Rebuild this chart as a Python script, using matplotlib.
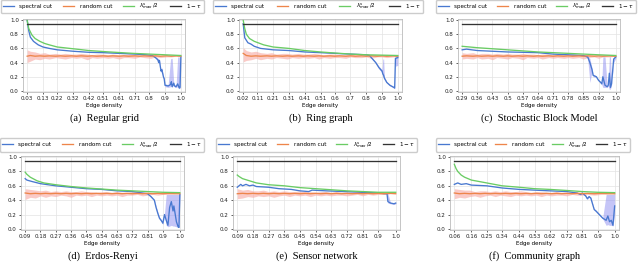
import matplotlib
matplotlib.use("Agg")
import matplotlib.pyplot as plt

# ---------------- data ----------------
a_ticks = [0.03, 0.13, 0.22, 0.32, 0.42, 0.51, 0.61, 0.71, 0.8, 0.9, 1.0]
b_ticks = [0.02, 0.11, 0.21, 0.31, 0.41, 0.51, 0.6, 0.7, 0.8, 0.9, 1.0]
c_ticks = [0.29, 0.36, 0.43, 0.5, 0.57, 0.64, 0.71, 0.78, 0.85, 0.92, 1.0]
d_ticks = [0.09, 0.18, 0.27, 0.36, 0.45, 0.54, 0.63, 0.72, 0.81, 0.9, 1.0]
e_ticks = [0.09, 0.18, 0.27, 0.36, 0.45, 0.54, 0.63, 0.72, 0.81, 0.9, 1.0]
f_ticks = [0.06, 0.16, 0.25, 0.34, 0.44, 0.53, 0.62, 0.72, 0.81, 0.9, 1.0]

captions = ["(a)  Regular grid", "(b)  Ring graph", "(c)  Stochastic Block Model",
            "(d)  Erdos-Renyi", "(e)  Sensor network", "(f)  Community graph"]
one_minus_tau = 0.945

# lambda_max / 2 (green)
a_lam_x = [0.03, 0.04, 0.06, 0.08, 0.11, 0.14, 0.17, 0.22, 0.3, 0.42, 0.55, 0.7, 0.9, 1.0]
a_lam = [1.0, 0.88, 0.79, 0.74, 0.70, 0.67, 0.65, 0.62, 0.60, 0.57, 0.55, 0.53, 0.51, 0.50]
b_lam_x = [0.02, 0.03, 0.04, 0.06, 0.09, 0.15, 0.21, 0.31, 0.41, 0.51, 0.6, 0.7, 0.8, 1.0]
b_lam = [1.0, 0.88, 0.80, 0.74, 0.70, 0.65, 0.62, 0.60, 0.57, 0.55, 0.535, 0.52, 0.51, 0.50]
c_lam_x = [0.29, 0.36, 0.43, 0.5, 0.57, 0.64, 0.71, 0.78, 0.85, 0.92, 1.0]
c_lam = [0.63, 0.61, 0.595, 0.58, 0.565, 0.55, 0.54, 0.53, 0.52, 0.51, 0.50]
d_lam_x = [0.09, 0.1, 0.12, 0.16, 0.2, 0.27, 0.36, 0.45, 0.54, 0.63, 0.72, 0.81, 0.9, 1.0]
d_lam = [0.79, 0.76, 0.72, 0.67, 0.64, 0.615, 0.59, 0.57, 0.555, 0.54, 0.53, 0.52, 0.51, 0.505]
e_lam_x = [0.09, 0.1, 0.12, 0.16, 0.2, 0.27, 0.36, 0.45, 0.54, 0.63, 0.72, 0.81, 0.9, 1.0]
e_lam = [0.75, 0.73, 0.70, 0.67, 0.64, 0.615, 0.60, 0.575, 0.56, 0.545, 0.53, 0.52, 0.51, 0.51]
f_lam_x = [0.06, 0.07, 0.08, 0.1, 0.12, 0.16, 0.25, 0.34, 0.44, 0.53, 0.62, 0.72, 0.81, 0.9, 1.0]
f_lam = [0.90, 0.84, 0.80, 0.75, 0.72, 0.68, 0.64, 0.60, 0.58, 0.56, 0.55, 0.535, 0.52, 0.51, 0.505]

# spectral cut (blue) and its spread
a_spec_x = [0.03, 0.04, 0.05, 0.07, 0.1, 0.13, 0.17, 0.22, 0.27, 0.32, 0.42, 0.51, 0.61, 0.71, 0.78, 0.82,
            0.84, 0.855, 0.86, 0.865, 0.87, 0.875, 0.88, 0.885, 0.89, 0.895, 0.9, 0.92, 0.935, 0.94,
            0.945, 0.955, 0.96, 0.97, 0.98, 0.99, 0.995, 1.0]
a_spec = [1.0, 0.85, 0.76, 0.70, 0.65, 0.62, 0.60, 0.58, 0.57, 0.56, 0.545, 0.54, 0.53, 0.52, 0.51, 0.50,
          0.47, 0.44, 0.40, 0.43, 0.35, 0.28, 0.30, 0.25, 0.20, 0.17, 0.08, 0.07, 0.09, 0.13,
          0.06, 0.11, 0.07, 0.06, 0.10, 0.04, 0.05, 0.48]
a_spec_hi = [1.0, 0.85, 0.76, 0.70, 0.65, 0.62, 0.60, 0.58, 0.57, 0.56, 0.545, 0.54, 0.53, 0.52, 0.51, 0.50,
             0.48, 0.46, 0.45, 0.44, 0.36, 0.30, 0.33, 0.27, 0.21, 0.18, 0.10, 0.09, 0.45, 0.46,
             0.46, 0.12, 0.09, 0.08, 0.48, 0.48, 0.06, 0.49]
a_spec_lo = [1.0, 0.85, 0.76, 0.70, 0.65, 0.62, 0.60, 0.58, 0.57, 0.56, 0.545, 0.54, 0.53, 0.52, 0.51, 0.50,
             0.46, 0.42, 0.38, 0.41, 0.33, 0.26, 0.28, 0.23, 0.18, 0.15, 0.06, 0.05, 0.06, 0.07,
             0.05, 0.09, 0.05, 0.05, 0.06, 0.03, 0.04, 0.45]

b_spec_x = [0.02, 0.03, 0.05, 0.07, 0.09, 0.13, 0.21, 0.31, 0.41, 0.51, 0.6, 0.7, 0.8, 0.82, 0.84,
            0.86, 0.88, 0.9, 0.905, 0.91, 0.915, 0.93, 0.95, 0.975, 0.98, 0.985, 1.0]
b_spec = [0.95, 0.75, 0.68, 0.66, 0.63, 0.60, 0.58, 0.57, 0.55, 0.54, 0.53, 0.52, 0.51, 0.50, 0.45,
          0.40, 0.33, 0.28, 0.24, 0.22, 0.18, 0.12, 0.08, 0.05, 0.04, 0.46, 0.47]
b_spec_hi = [0.95, 0.75, 0.68, 0.66, 0.63, 0.60, 0.58, 0.57, 0.55, 0.54, 0.53, 0.52, 0.51, 0.50, 0.46,
             0.41, 0.35, 0.30, 0.45, 0.45, 0.20, 0.13, 0.09, 0.06, 0.05, 0.50, 0.50]
b_spec_lo = [0.95, 0.75, 0.68, 0.66, 0.63, 0.60, 0.58, 0.57, 0.55, 0.54, 0.53, 0.52, 0.51, 0.50, 0.44,
             0.39, 0.31, 0.26, 0.20, 0.19, 0.16, 0.11, 0.07, 0.04, 0.03, 0.35, 0.36]

c_spec_x = [0.29, 0.31, 0.36, 0.43, 0.5, 0.57, 0.64, 0.71, 0.78, 0.85, 0.87, 0.88, 0.89, 0.895, 0.91,
            0.92, 0.93, 0.935, 0.94, 0.95, 0.96, 0.965, 0.97, 0.975, 0.98, 0.99, 1.0]
c_spec = [0.58, 0.59, 0.57, 0.56, 0.55, 0.545, 0.54, 0.52, 0.51, 0.50, 0.48, 0.40, 0.30, 0.22, 0.20,
          0.15, 0.12, 0.10, 0.20, 0.08, 0.06, 0.08, 0.25, 0.05, 0.10, 0.45, 0.48]
c_spec_hi = [0.58, 0.59, 0.57, 0.56, 0.55, 0.545, 0.54, 0.52, 0.51, 0.50, 0.49, 0.46, 0.32, 0.24, 0.21,
             0.16, 0.13, 0.11, 0.48, 0.48, 0.07, 0.09, 0.48, 0.48, 0.12, 0.48, 0.49]
c_spec_lo = [0.58, 0.59, 0.57, 0.56, 0.55, 0.545, 0.54, 0.52, 0.51, 0.50, 0.46, 0.12, 0.28, 0.20, 0.19,
             0.14, 0.11, 0.09, 0.05, 0.05, 0.05, 0.07, 0.02, 0.03, 0.08, 0.40, 0.46]

d_spec_x = [0.09, 0.1, 0.13, 0.18, 0.27, 0.36, 0.45, 0.54, 0.63, 0.72, 0.78, 0.81, 0.83, 0.85, 0.86,
            0.87, 0.88, 0.89, 0.9, 0.91, 0.92, 0.93, 0.94, 0.95, 0.96, 0.965, 0.98, 0.99, 0.995, 1.0]
d_spec = [0.70, 0.68, 0.66, 0.63, 0.60, 0.58, 0.56, 0.55, 0.53, 0.52, 0.50, 0.49, 0.45, 0.40, 0.30,
          0.22, 0.15, 0.12, 0.08, 0.20, 0.12, 0.05, 0.30, 0.38, 0.25, 0.32, 0.10, 0.03, 0.02, 0.48]
d_spec_hi = [0.70, 0.68, 0.66, 0.63, 0.60, 0.58, 0.56, 0.55, 0.53, 0.52, 0.50, 0.49, 0.46, 0.41, 0.32,
             0.24, 0.17, 0.13, 0.10, 0.22, 0.48, 0.48, 0.48, 0.48, 0.48, 0.48, 0.48, 0.48, 0.48, 0.49]
d_spec_lo = [0.70, 0.68, 0.66, 0.63, 0.60, 0.58, 0.56, 0.55, 0.53, 0.52, 0.50, 0.49, 0.44, 0.39, 0.28,
             0.20, 0.13, 0.11, 0.06, 0.18, 0.05, 0.03, 0.04, 0.05, 0.04, 0.04, 0.03, 0.02, 0.02, 0.46]

e_spec_x = [0.09, 0.11, 0.12, 0.14, 0.16, 0.18, 0.2, 0.27, 0.33, 0.4, 0.45, 0.5, 0.52, 0.6, 0.7, 0.8,
            0.9, 0.94, 0.95, 0.955, 0.97, 0.99, 1.0]
e_spec = [0.58, 0.62, 0.60, 0.62, 0.60, 0.61, 0.59, 0.58, 0.56, 0.55, 0.53, 0.52, 0.54, 0.53, 0.52, 0.51,
          0.50, 0.49, 0.49, 0.38, 0.36, 0.35, 0.36]
e_spec_hi = [0.58, 0.62, 0.60, 0.62, 0.60, 0.61, 0.59, 0.58, 0.56, 0.55, 0.53, 0.52, 0.54, 0.53, 0.52, 0.51,
             0.50, 0.49, 0.49, 0.49, 0.37, 0.36, 0.37]
e_spec_lo = [0.58, 0.62, 0.60, 0.62, 0.60, 0.61, 0.59, 0.58, 0.56, 0.55, 0.53, 0.52, 0.54, 0.53, 0.52, 0.51,
             0.50, 0.49, 0.49, 0.36, 0.35, 0.34, 0.35]

f_spec_x = [0.06, 0.08, 0.1, 0.13, 0.16, 0.25, 0.34, 0.44, 0.53, 0.62, 0.72, 0.78, 0.8, 0.81, 0.83,
            0.84, 0.85, 0.86, 0.87, 0.88, 0.89, 0.91, 0.93, 0.95, 0.96, 0.97, 0.98, 0.99, 1.0]
f_spec = [0.62, 0.64, 0.62, 0.63, 0.61, 0.60, 0.57, 0.55, 0.54, 0.53, 0.52, 0.50, 0.48, 0.50, 0.46,
          0.42, 0.45, 0.43, 0.35, 0.27, 0.25, 0.20, 0.15, 0.12, 0.18, 0.10, 0.12, 0.05, 0.32]
f_spec_hi = [0.62, 0.64, 0.62, 0.63, 0.61, 0.60, 0.57, 0.55, 0.54, 0.53, 0.52, 0.50, 0.49, 0.50, 0.47,
             0.43, 0.46, 0.44, 0.36, 0.28, 0.26, 0.21, 0.16, 0.48, 0.48, 0.48, 0.48, 0.48, 0.49]
f_spec_lo = [0.62, 0.64, 0.62, 0.63, 0.61, 0.60, 0.57, 0.55, 0.54, 0.53, 0.52, 0.50, 0.47, 0.49, 0.45,
             0.41, 0.44, 0.42, 0.34, 0.26, 0.24, 0.19, 0.14, 0.05, 0.06, 0.05, 0.05, 0.04, 0.20]

# random cut (orange) and its spread
a_rand_x = [0.03, 0.05, 0.08, 0.11, 0.14, 0.17, 0.21, 0.24, 0.27, 0.31, 0.34, 0.37, 0.41, 0.44, 0.47, 0.51,
            0.54, 0.57, 0.61, 0.64, 0.67, 0.71, 0.74, 0.77, 0.81, 0.84, 0.87, 0.91, 0.94, 0.97, 1.0]
a_rand = [0.49, 0.50, 0.49, 0.495, 0.49, 0.495, 0.49, 0.495, 0.49, 0.495, 0.49, 0.495, 0.49, 0.495, 0.49, 0.495,
          0.49, 0.495, 0.49, 0.495, 0.49, 0.495, 0.49, 0.495, 0.49, 0.495, 0.49, 0.495, 0.49, 0.495, 0.49]
a_rand_lo = [0.40, 0.42, 0.45, 0.44, 0.46, 0.45, 0.47, 0.46, 0.45, 0.47, 0.46, 0.47, 0.44, 0.47, 0.46, 0.47,
             0.46, 0.47, 0.45, 0.47, 0.47, 0.46, 0.48, 0.47, 0.46, 0.48, 0.47, 0.48, 0.48, 0.49, 0.49]
a_rand_hi = [0.58, 0.56, 0.55, 0.53, 0.54, 0.52, 0.53, 0.52, 0.53, 0.52, 0.52, 0.53, 0.52, 0.51, 0.52, 0.52,
             0.51, 0.52, 0.51, 0.51, 0.52, 0.51, 0.51, 0.51, 0.51, 0.51, 0.50, 0.51, 0.50, 0.50, 0.50]

b_rand_x = [0.02, 0.04, 0.07, 0.1, 0.13, 0.17, 0.2, 0.23, 0.27, 0.3, 0.33, 0.37, 0.4, 0.43, 0.47, 0.5,
            0.53, 0.57, 0.6, 0.63, 0.67, 0.7, 0.73, 0.77, 0.8, 0.83, 0.87, 0.9, 0.93, 0.97, 1.0]
b_rand = [0.53, 0.50, 0.49, 0.495, 0.49, 0.495, 0.49, 0.495, 0.49, 0.495, 0.49, 0.495, 0.49, 0.495, 0.49, 0.495,
          0.49, 0.495, 0.49, 0.495, 0.49, 0.495, 0.49, 0.495, 0.49, 0.495, 0.49, 0.495, 0.49, 0.495, 0.49]
b_rand_lo = [0.41, 0.43, 0.44, 0.46, 0.44, 0.46, 0.45, 0.47, 0.46, 0.45, 0.47, 0.46, 0.47, 0.46, 0.47, 0.45,
             0.47, 0.46, 0.47, 0.47, 0.46, 0.48, 0.47, 0.47, 0.48, 0.46, 0.48, 0.48, 0.47, 0.48, 0.49]
b_rand_hi = [0.61, 0.57, 0.55, 0.56, 0.54, 0.53, 0.54, 0.52, 0.53, 0.53, 0.52, 0.53, 0.52, 0.52, 0.53, 0.52,
             0.51, 0.52, 0.52, 0.51, 0.51, 0.52, 0.51, 0.51, 0.51, 0.51, 0.51, 0.50, 0.51, 0.50, 0.50]

c_rand_x = [0.29, 0.31, 0.34, 0.36, 0.38, 0.41, 0.43, 0.45, 0.48, 0.5, 0.52, 0.55, 0.57, 0.59, 0.62, 0.64,
            0.66, 0.69, 0.71, 0.73, 0.76, 0.78, 0.8, 0.83, 0.85, 0.87, 0.9, 0.92, 0.94, 0.97, 1.0]
c_rand = [0.49, 0.495, 0.49, 0.495, 0.49, 0.495, 0.49, 0.495, 0.49, 0.495, 0.49, 0.495, 0.49, 0.495, 0.49, 0.495,
          0.49, 0.495, 0.49, 0.495, 0.49, 0.495, 0.49, 0.495, 0.49, 0.495, 0.49, 0.495, 0.49, 0.495, 0.49]
c_rand_lo = [0.45, 0.46, 0.45, 0.47, 0.45, 0.46, 0.44, 0.47, 0.46, 0.45, 0.47, 0.46, 0.44, 0.47, 0.46, 0.47,
             0.45, 0.47, 0.46, 0.47, 0.46, 0.47, 0.46, 0.47, 0.45, 0.47, 0.48, 0.46, 0.48, 0.48, 0.49]
c_rand_hi = [0.54, 0.53, 0.54, 0.52, 0.53, 0.53, 0.52, 0.53, 0.52, 0.53, 0.52, 0.52, 0.53, 0.52, 0.52, 0.51,
             0.52, 0.52, 0.51, 0.52, 0.51, 0.51, 0.52, 0.51, 0.51, 0.51, 0.51, 0.50, 0.51, 0.50, 0.50]

d_rand_x = [0.09, 0.12, 0.15, 0.18, 0.21, 0.24, 0.27, 0.3, 0.33, 0.36, 0.39, 0.42, 0.45, 0.48, 0.51, 0.54,
            0.57, 0.6, 0.63, 0.66, 0.69, 0.72, 0.75, 0.78, 0.81, 0.84, 0.87, 0.9, 0.93, 0.97, 1.0]
d_rand = [0.50, 0.49, 0.495, 0.49, 0.495, 0.49, 0.495, 0.49, 0.495, 0.49, 0.495, 0.49, 0.495, 0.49, 0.495, 0.49,
          0.495, 0.49, 0.495, 0.49, 0.495, 0.49, 0.495, 0.49, 0.495, 0.49, 0.495, 0.49, 0.495, 0.49, 0.49]
d_rand_lo = [0.41, 0.44, 0.43, 0.46, 0.44, 0.46, 0.45, 0.47, 0.46, 0.44, 0.47, 0.46, 0.47, 0.45, 0.47, 0.46,
             0.47, 0.46, 0.47, 0.45, 0.47, 0.47, 0.48, 0.46, 0.47, 0.48, 0.47, 0.48, 0.48, 0.49, 0.49]
d_rand_hi = [0.56, 0.55, 0.54, 0.53, 0.54, 0.52, 0.53, 0.52, 0.53, 0.52, 0.52, 0.53, 0.52, 0.52, 0.51, 0.52,
             0.52, 0.51, 0.52, 0.51, 0.51, 0.52, 0.51, 0.51, 0.51, 0.51, 0.51, 0.50, 0.51, 0.50, 0.50]

e_rand_x = [0.09, 0.12, 0.15, 0.18, 0.21, 0.24, 0.27, 0.3, 0.33, 0.36, 0.39, 0.42, 0.45, 0.48, 0.51, 0.54,
            0.57, 0.6, 0.63, 0.66, 0.69, 0.72, 0.75, 0.78, 0.81, 0.84, 0.87, 0.9, 0.93, 0.97, 1.0]
e_rand = [0.49, 0.495, 0.49, 0.495, 0.49, 0.495, 0.49, 0.495, 0.49, 0.495, 0.49, 0.495, 0.49, 0.495, 0.49, 0.495,
          0.49, 0.495, 0.49, 0.495, 0.49, 0.495, 0.49, 0.495, 0.49, 0.495, 0.49, 0.495, 0.49, 0.495, 0.49]
e_rand_lo = [0.42, 0.43, 0.45, 0.44, 0.46, 0.45, 0.46, 0.44, 0.46, 0.47, 0.45, 0.47, 0.46, 0.47, 0.45, 0.47,
             0.46, 0.47, 0.46, 0.47, 0.47, 0.46, 0.47, 0.48, 0.46, 0.48, 0.47, 0.48, 0.48, 0.49, 0.49]
e_rand_hi = [0.56, 0.54, 0.55, 0.53, 0.53, 0.54, 0.52, 0.53, 0.52, 0.53, 0.52, 0.52, 0.53, 0.52, 0.52, 0.51,
             0.52, 0.52, 0.51, 0.52, 0.51, 0.51, 0.51, 0.51, 0.51, 0.51, 0.50, 0.51, 0.50, 0.50, 0.50]

f_rand_x = [0.06, 0.09, 0.12, 0.15, 0.18, 0.21, 0.24, 0.27, 0.3, 0.33, 0.36, 0.39, 0.42, 0.45, 0.48, 0.51,
            0.54, 0.57, 0.6, 0.63, 0.66, 0.69, 0.72, 0.75, 0.78, 0.81, 0.84, 0.88, 0.92, 0.96, 1.0]
f_rand = [0.50, 0.49, 0.495, 0.49, 0.495, 0.49, 0.495, 0.49, 0.495, 0.49, 0.495, 0.49, 0.495, 0.49, 0.495, 0.49,
          0.495, 0.49, 0.495, 0.49, 0.495, 0.49, 0.495, 0.49, 0.495, 0.49, 0.495, 0.49, 0.495, 0.49, 0.49]
f_rand_lo = [0.42, 0.44, 0.43, 0.45, 0.46, 0.44, 0.46, 0.47, 0.45, 0.47, 0.46, 0.45, 0.47, 0.46, 0.47, 0.46,
             0.47, 0.45, 0.47, 0.46, 0.47, 0.47, 0.46, 0.48, 0.47, 0.47, 0.48, 0.47, 0.48, 0.49, 0.49]
f_rand_hi = [0.56, 0.55, 0.54, 0.54, 0.52, 0.53, 0.53, 0.52, 0.53, 0.52, 0.53, 0.52, 0.52, 0.53, 0.52, 0.51,
             0.52, 0.52, 0.51, 0.51, 0.52, 0.51, 0.51, 0.51, 0.51, 0.51, 0.50, 0.51, 0.50, 0.50, 0.50]

# ---------------- style ----------------
C_SPEC = "#4878d0"
C_RAND = "#ee854a"
C_LAM = "#6acc64"
C_TAU = "#333333"
C_SPEC_BAND = "#8c8cf0"
C_RAND_BAND = "#f7a8a2"
FS = 4.1

W, H = 640, 264
fig = plt.figure(figsize=(W / 100, H / 100), dpi=100)
fig.patch.set_facecolor("white")

# (left, right, top, bottom) in pixels
ax_px = [(23, 185, 19, 92), (239, 402, 19, 92), (458, 620, 19, 92),
         (21, 184, 156, 230), (233, 400, 156, 230), (450, 619, 156, 230)]
leg_px = [(1, 204, 1, 12), (213, 423, 1, 12), (436, 636, 1, 12),
          (0, 204, 140, 150), (216, 417, 140, 150), (436, 630, 140, 150)]
cap_y = [118, 118, 118, 256, 256, 256]

panels = [
    (a_ticks, a_lam_x, a_lam, a_spec_x, a_spec, a_spec_lo, a_spec_hi, a_rand_x, a_rand, a_rand_lo, a_rand_hi),
    (b_ticks, b_lam_x, b_lam, b_spec_x, b_spec, b_spec_lo, b_spec_hi, b_rand_x, b_rand, b_rand_lo, b_rand_hi),
    (c_ticks, c_lam_x, c_lam, c_spec_x, c_spec, c_spec_lo, c_spec_hi, c_rand_x, c_rand, c_rand_lo, c_rand_hi),
    (d_ticks, d_lam_x, d_lam, d_spec_x, d_spec, d_spec_lo, d_spec_hi, d_rand_x, d_rand, d_rand_lo, d_rand_hi),
    (e_ticks, e_lam_x, e_lam, e_spec_x, e_spec, e_spec_lo, e_spec_hi, e_rand_x, e_rand, e_rand_lo, e_rand_hi),
    (f_ticks, f_lam_x, f_lam, f_spec_x, f_spec, f_spec_lo, f_spec_hi, f_rand_x, f_rand, f_rand_lo, f_rand_hi),
]

for i, (ticks, lx, ly, sx, sy, slo, shi, rx, ry, rlo, rhi) in enumerate(panels):
    l, r, t, b = ax_px[i]
    ax = fig.add_axes([l / W, 1 - b / H, (r - l) / W, (b - t) / H])
    ax.set_facecolor("white")
    for s in ax.spines.values():
        s.set_color("#bbbbbb")
        s.set_linewidth(0.6)
    ax.grid(True, color="#e3e3e3", linewidth=0.5)
    ax.set_axisbelow(True)

    ax.fill_between(rx, rlo, rhi, color=C_RAND_BAND, alpha=0.6, linewidth=0)
    ax.fill_between(sx, slo, shi, color=C_SPEC_BAND, alpha=0.5, linewidth=0)
    h1, = ax.plot(sx, sy, color=C_SPEC, lw=0.95)
    h2, = ax.plot(rx, ry, color=C_RAND, lw=0.95)
    h3, = ax.plot(lx, ly, color=C_LAM, lw=0.95)
    h4, = ax.plot([ticks[0], ticks[-1]], [one_minus_tau, one_minus_tau], color=C_TAU, lw=0.95)

    span = ticks[-1] - ticks[0]
    ax.set_xlim(ticks[0] - 0.027 * span, ticks[-1] + 0.027 * span)
    ax.set_ylim(-0.015, 1.015)
    ax.set_xticks(ticks)
    ax.set_xticklabels([str(v) for v in ticks])
    ax.set_yticks([0.0, 0.2, 0.4, 0.6, 0.8, 1.0])
    ax.set_yticklabels(["0.0", "0.2", "0.4", "0.6", "0.8", "1.0"])
    ax.tick_params(labelsize=FS, length=1.5, width=0.5, pad=1.5, colors="#222222")
    ax.set_xlabel("Edge density", fontsize=FS, labelpad=1.2)

    ll, lr, lt, lb = leg_px[i]
    ax.legend([h1, h2, h3, h4],
              ["spectral cut", "random cut", r"$\lambda^s_{max}\,/2$", r"$1-\tau$"],
              loc="center", mode="expand", ncol=4,
              bbox_to_anchor=(ll / W, 1 - lb / H, (lr - ll) / W, (lb - lt) / H),
              bbox_transform=fig.transFigure, fontsize=FS, frameon=True,
              handlelength=1.9, handletextpad=1.0, borderpad=0.3, borderaxespad=0,
              fancybox=True, edgecolor="#cccccc", framealpha=1)

    fig.text((l + r) / 2 / W, 1 - cap_y[i] / H, captions[i], ha="center", va="center",
             fontsize=7.5, family="Liberation Serif")

fig.savefig("out.png", dpi=100, facecolor="white")
